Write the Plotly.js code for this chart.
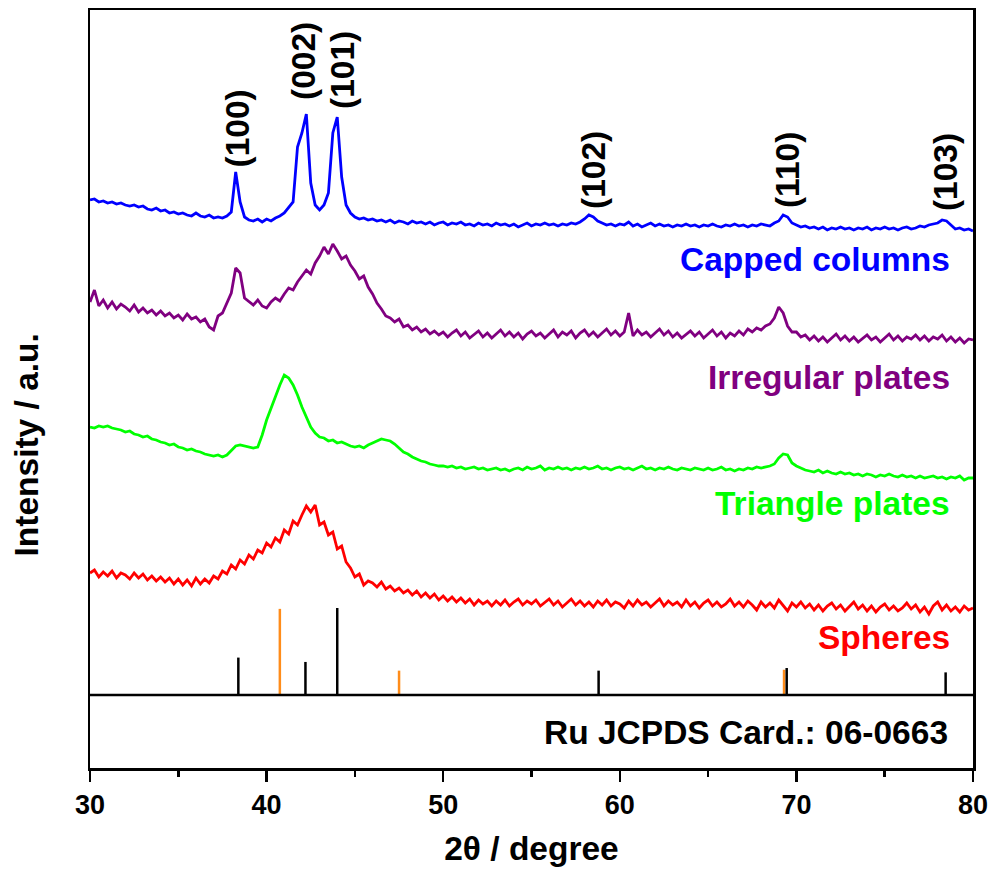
<!DOCTYPE html>
<html>
<head>
<meta charset="utf-8">
<script src="https://cdn.plot.ly/plotly-3.0.1.min.js"></script>
<style>html,body{margin:0;padding:0;background:#fff;}#chart{width:993px;height:869px;}</style>
</head>
<body>
<div id="chart"></div>
<script>
// 2θ sampling grid: 30° to 80° in 0.25° steps (201 points)
const thetaStart = 30, thetaStep = 0.25, nPts = 201;

// Intensities (arbitrary units, stacked with offsets as in the figure)
const cappedColumns = [
568,569,566,567, 565,566,564,565, 563,562,563,561, 562,559,558,560, 557,558,555,556,
554,555,553,552, 555,552,551,553, 550,551,550,552, 556,596,566,551, 548,547,549,546,
549,547,550,552, 555,560,566,621, 635,654,585,563, 558,563,575,635, 651,591,563,555,
551,549,550,548, 549,547,548,546, 548,545,547,546, 544,547,545,546, 544,546,543,545,
546,543,545,544, 546,543,544,542, 545,543,544,542, 545,543,544,542, 544,541,543,545,
542,544,543,545, 543,544,542,544, 543,545,544,546, 549,553,551,547, 545,543,544,542,
544,543,546,542, 544,541,543,545, 542,544,542,543, 541,543,542,544, 542,543,541,543,
542,544,542,541, 543,542,544,542, 543,541,543,542, 544,543,542,545, 547,553,551,545,
543,541,542,540, 541,539,541,538, 540,539,541,539, 540,538,540,539, 541,538,540,539,
541,539,540,538, 540,541,539,540, 542,541,543,544, 545,548,547,543, 539,540,538,539,
537];

const irregularPlates = [
466,478,462,468, 460,466,459,464, 461,457,463,456, 460,455,458,453, 457,452,455,450,
453,448,454,449, 451,446,449,441, 438,452,455,466, 475,500,495,470, 466,463,468,462,
460,466,470,467, 474,480,478,486, 492,498,494,505, 512,521,514,524, 517,509,512,503,
497,489,492,481, 474,465,459,452, 450,446,449,441, 443,438,441,436, 439,434,437,433,
436,431,435,438, 432,436,430,434, 437,431,435,430, 434,438,432,436, 431,435,429,434,
437,432,435,430, 434,438,431,436, 433,437,430,435, 438,432,436,431, 435,439,433,437,
432,436,455,432, 438,433,436,431, 435,439,433,437, 431,435,430,434, 437,432,436,430,
434,438,432,436, 430,435,432,437, 433,439,436,440, 438,442,444,450, 461,455,442,436,
436,431,433,428, 432,427,431,426, 430,434,428,432, 427,431,426,430, 433,428,431,426,
430,434,428,432, 427,431,429,433, 428,432,427,431, 429,433,427,431, 426,430,425,429,
428];

const trianglePlates = [
341,340,342,341, 342,340,339,338, 336,337,334,333, 331,332,329,328, 326,325,323,324,
321,320,318,319, 317,316,314,313, 312,313,311,313, 318,322,323,322, 321,320,321,333,
348,360,373,383, 393,390,383,373, 361,350,341,335, 331,330,327,328, 325,326,324,322,
321,322,320,323, 325,327,329,328, 327,324,320,316, 314,311,309,307, 306,304,303,302,
302,301,302,300, 301,299,300,301, 299,300,298,299, 300,298,299,297, 299,300,298,301,
299,300,302,298, 300,299,301,299, 300,298,300,299, 301,299,300,302, 299,300,298,300,
301,299,300,298, 300,302,299,300, 298,300,299,301, 299,298,300,299, 298,300,299,298,
300,298,299,301, 298,299,297,299, 298,300,299,301, 300,301,302,304, 310,314,313,305,
302,300,298,297, 296,298,295,297, 295,294,296,294, 295,293,294,292, 294,293,291,293,
292,294,292,291, 293,291,292,290, 292,290,291,292, 290,291,289,291, 290,292,288,290,
290];

const spheres = [
195,198,191,196, 192,197,190,195, 193,189,195,190, 194,188,192,187, 191,186,190,184,
189,183,188,182, 190,184,189,185, 192,189,197,194, 203,199,208,204, 213,209,218,215,
225,221,230,226, 238,234,247,243, 253,262,256,263, 243,246,233,236, 219,222,206,200,
191,194,183,187, 185,181,186,179, 182,177,180,175, 178,173,177,171, 175,170,174,168,
172,167,171,166, 170,165,169,163, 168,164,167,162, 167,163,168,162, 166,169,163,167,
164,168,162,166, 169,163,167,161, 165,169,163,167, 162,166,161,167, 163,168,162,166,
164,160,167,162, 168,163,166,161, 165,169,162,167, 163,166,161,168, 162,166,160,165,
168,162,166,161, 164,169,162,166, 161,167,163,158, 166,161,165,160, 168,162,157,165,
161,166,160,164, 158,163,157,162, 165,159,163,157, 161,166,159,163, 157,162,156,161,
164,158,162,157, 160,165,159,163, 156,161,154,162, 166,158,163,157, 161,156,162,158,
160];

// Reference sticks: Ru hcp (JCPDS 06-0663) in black, fcc Ru in orange
const hcpPos = [38.4, 42.2, 44.0, 58.8, 69.45, 78.45];
const hcpInt = [43, 38, 100, 28, 31, 26];
const fccPos = [40.75, 47.5, 69.3];
const fccInt = [99, 28, 29];

const millerLabels = ['(100)', '(002)', '(101)', '(102)', '(110)', '(103)'];
const sampleNames = ['Capped columns', 'Irregular plates', 'Triangle plates', 'Spheres'];
const sampleColors = ['#0000ff', '#800080', '#00ff00', '#ff0000'];
const cardText = 'Ru JCPDS Card.: 06-0663';

// ---- build ----
const twoTheta = [];
for (let i = 0; i < nPts; i++) twoTheta.push(thetaStart + i * thetaStep);

const stickBase = 73, stickScale = 0.87;
function sticks(pos, inten, color) {
  const xs = [], ys = [];
  pos.forEach((p, i) => { xs.push(p, p, null); ys.push(stickBase, stickBase + inten[i] * stickScale, null); });
  return {x: xs, y: ys, mode: 'lines', line: {color: color, width: 2.5}, hoverinfo: 'skip', showlegend: false};
}

const series = [cappedColumns, irregularPlates, trianglePlates, spheres];
const traces = [sticks(fccPos, fccInt, '#ff8c1a'), sticks(hcpPos, hcpInt, '#000000')];
series.forEach((s, k) => traces.push({
  x: twoTheta, y: s, mode: 'lines', name: sampleNames[k],
  line: {color: sampleColors[k], width: 2.8}, showlegend: false
}));

const FONT = 'Liberation Sans, Arial, sans-serif';
const bigFont = (c) => ({family: FONT, size: 33.5, color: c, weight: 700});

const annotations = [];
const millerX = [38.35, 42.06, 44.27, 58.48, 69.47, 78.42];
const millerY = [640, 707, 698, 598, 598, 596];
millerLabels.forEach((t, i) => annotations.push({
  text: t, x: millerX[i], y: millerY[i], xref: 'x', yref: 'y', showarrow: false,
  textangle: -90, xanchor: 'center', yanchor: 'middle', font: bigFont('#000')
}));
const nameY = [509, 391, 265, 131];
sampleNames.forEach((t, i) => annotations.push({
  text: t, x: 0.976, y: nameY[i], xref: 'paper', yref: 'y', showarrow: false,
  xanchor: 'right', yanchor: 'middle', font: bigFont(sampleColors[i])
}));
annotations.push({text: cardText, x: 0.974, y: 36, xref: 'paper', yref: 'y', showarrow: false,
  xanchor: 'right', yanchor: 'middle', font: bigFont('#000')});
annotations.push({text: 'Intensity / a.u.', x: -0.072, y: 0.426, xref: 'paper', yref: 'paper',
  showarrow: false, textangle: -90, xanchor: 'center', yanchor: 'middle', font: bigFont('#000')});

const layout = {
  width: 993, height: 869,
  margin: {l: 90, r: 20, t: 10, b: 101},
  paper_bgcolor: '#fff', plot_bgcolor: '#fff',
  showlegend: false,
  xaxis: {
    range: [30, 80], dtick: 10, tick0: 30, ticks: 'outside', ticklen: 11, tickwidth: 2.5,
    tickcolor: '#000', showline: true, linewidth: 2.5, linecolor: '#000', mirror: true,
    showgrid: false, zeroline: false,
    minor: {dtick: 5, ticks: 'outside', ticklen: 6, tickwidth: 2.5, tickcolor: '#000', showgrid: false},
    tickfont: {family: FONT, size: 27, color: '#000', weight: 700},
    title: {text: '2θ / degree', standoff: 18, font: bigFont('#000')}
  },
  yaxis: {
    range: [0, 758], showticklabels: false, ticks: '', showline: true, linewidth: 2.5,
    linecolor: '#000', mirror: true, showgrid: false, zeroline: false
  },
  shapes: [{type: 'line', xref: 'paper', yref: 'y', x0: 0, x1: 1, y0: stickBase, y1: stickBase,
    line: {color: '#000', width: 2.5}}],
  annotations: annotations
};

Plotly.newPlot('chart', traces, layout, {staticPlot: true, displayModeBar: false});
</script>
</body>
</html>
